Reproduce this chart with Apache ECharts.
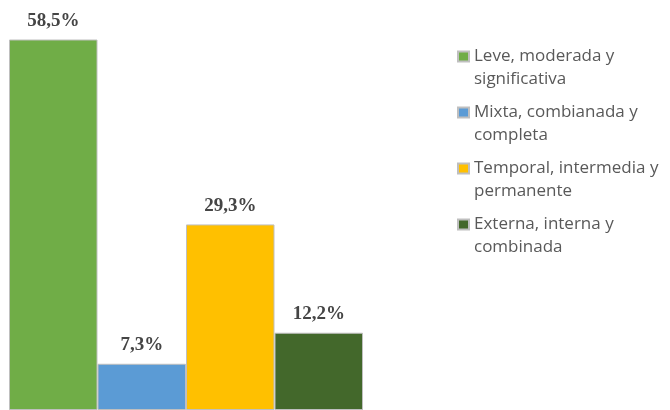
<!DOCTYPE html>
<html>
<head>
<meta charset="utf-8">
<script src="https://cdn.jsdelivr.net/npm/echarts@6/dist/echarts.min.js"></script>
<style>
  html, body { margin: 0; padding: 0; background: #ffffff; }
  #chart { width: 670px; height: 410px; }
</style>
</head>
<body>
<div id="chart"></div>
<script>
// Series (one bar each) and their percentages
const seriesNames = [
  'Leve, moderada y significativa',
  'Mixta, combianada y completa',
  'Temporal, intermedia y permanente',
  'Externa, interna y combinada'
];
// Legend text split over two lines
const legendLines = [
  ['Leve, moderada y', 'significativa'],
  ['Mixta, combianada y', 'completa'],
  ['Temporal, intermedia y', 'permanente'],
  ['Externa, interna y', 'combinada']
];
const values = [58.5, 7.3, 29.3, 12.2];
const palette = ['#70ad47', '#5b9bd5', '#ffc000', '#43682b'];

const chart = echarts.init(document.getElementById('chart'), null, { renderer: 'canvas' });

const fmtPct = v => v.toFixed(1).replace('.', ',') + '%';

const series = seriesNames.map((name, i) => ({
  name: name,
  type: 'bar',
  data: [values[i]],
  barGap: '0%',
  barCategoryGap: '0%',
  itemStyle: { color: palette[i], borderColor: '#bfbfbf', borderWidth: 1 },
  label: {
    show: true,
    position: 'top',
    distance: 9,
    formatter: p => fmtPct(p.value),
    fontFamily: 'Liberation Serif',
    fontWeight: 'bold',
    fontSize: 19,
    color: '#454545'
  }
}));

chart.setOption({
  animation: false,
  color: palette,
  grid: { left: 9, top: 30, width: 354, height: 382 },
  xAxis: { type: 'category', data: [''], show: false },
  yAxis: { type: 'value', min: 0, max: 60, show: false },
  legend: {
    orient: 'vertical',
    left: 457,
    top: 22,
    padding: 0,
    itemGap: -13,
    itemWidth: 11,
    itemHeight: 10,
    icon: 'rect',
    data: seriesNames,
    // an empty first line keeps the swatch level with the first text line
    formatter: name => '\n' + legendLines[seriesNames.indexOf(name)].join('\n'),
    textStyle: {
      fontFamily: 'Open Sans',
      fontSize: 17,
      lineHeight: 23,
      color: '#595959'
    }
  },
  series: series
});
</script>
</body>
</html>
